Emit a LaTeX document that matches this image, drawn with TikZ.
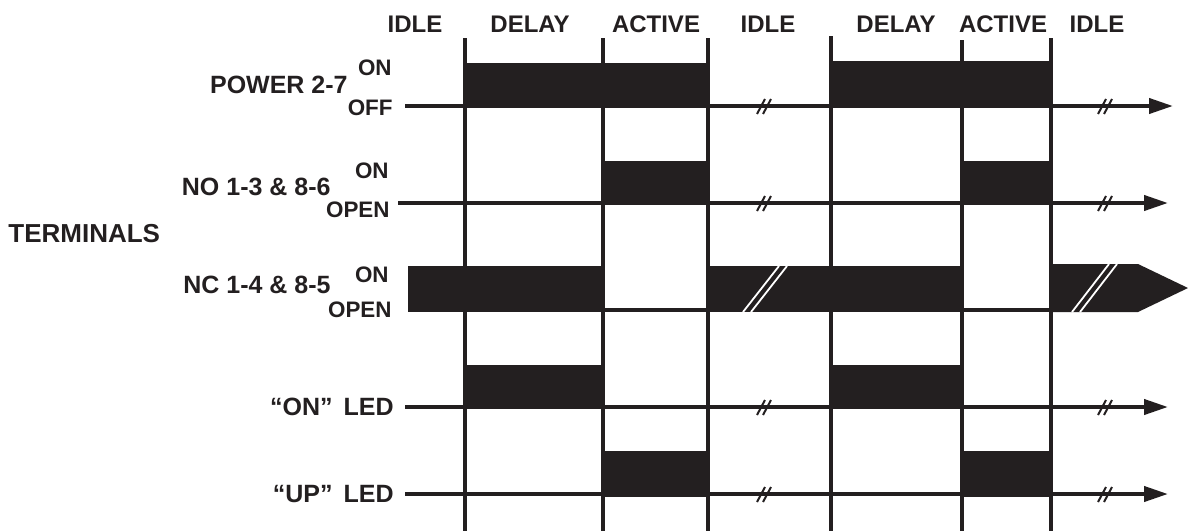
\documentclass[tikz,border=0pt]{standalone}
\usepackage{fontspec}
\setmainfont{Liberation Sans}
\usetikzlibrary{arrows.meta,positioning}
\usepackage{xcolor}
\definecolor{Ink}{HTML}{231F20}
\tikzset{
 phase/.style={font=\bfseries\fontsize{12}{14}\selectfont, text=Ink, anchor=base, inner sep=0pt},
 rowlabel/.style={font=\bfseries\fontsize{12.5}{15}\selectfont, text=Ink, anchor=base east, inner sep=0pt},
 levellabel/.style={font=\bfseries\fontsize{11.2}{13}\selectfont, text=Ink, anchor=base east, inner sep=0pt},
 divider/.style={draw=Ink, line width=2.2pt},
 wave/.style={draw=Ink, line width=2pt, -{Triangle[length=12pt,width=7.5pt]}},
 openline/.style={draw=Ink, line width=2pt},
 bar/.style={fill=Ink},
 breakmark/.style={draw=Ink, line width=1pt},
 gap/.style={draw=white, line width=0.9pt}
}
\newcommand{\cutmark}[2]{\draw[breakmark] (#1-8,#2+8) -- (#1,#2-7); \draw[breakmark] (#1-2,#2+8) -- (#1+6,#2-7);}

\begin{document}
\begin{tikzpicture}[x=0.5pt,y=-0.5pt]
\useasboundingbox (0,0) rectangle (1188,531);
% phases
\node[phase] (idleA) at (415,32) {IDLE};
\node[phase] (delayA) at (530,32) {DELAY};
\node[phase] (activeA) at (656,32) {ACTIVE};
\node[phase] (idleB) at (768,32) {IDLE};
\node[phase] (delayB) at (896,32) {DELAY};
\node[phase] (activeB) at (1003,32) {ACTIVE};
\node[phase] (idleC) at (1097,32) {IDLE};
% labels
\node[rowlabel] (power) at (348,93) {POWER 2-7};
\node[levellabel] (powerOn) at (392,75) {ON};
\node[levellabel] (powerOff) at (393,115) {OFF};
\node[rowlabel] (no) at (331,195) {NO 1-3 \& 8-6};
\node[levellabel] (noOn) at (389,178) {ON};
\node[levellabel] (noOpen) at (390,217) {OPEN};
\node[rowlabel,anchor=base west,font=\bfseries\fontsize{13}{15}\selectfont] (term) at (8,242) {TERMINALS};
\node[rowlabel] (nc) at (331,293) {NC 1-4 \& 8-5};
\node[levellabel] (ncOn) at (389,282) {ON};
\node[levellabel] (ncOpen) at (392,317) {OPEN};
\node[rowlabel] (onLed) at (394,415) {“ON”\hspace{2pt} LED};
\node[rowlabel] (upLed) at (394,502) {“UP”\hspace{2pt} LED};
% POWER 2-7
\fill[bar] (465,63) rectangle (708,108);
\fill[bar] (831,61) rectangle (1051,108);
\coordinate (powerStart) at (405,106);
\coordinate (powerEnd) at (1173,106);
\draw[wave] (powerStart) -- (powerEnd);
\cutmark{765}{106}\cutmark{1106}{106}
% NO 1-3 & 8-6
\fill[bar] (603,161) rectangle (708,205);
\fill[bar] (962,161) rectangle (1051,205);
\coordinate (noStart) at (398,203);
\coordinate (noEnd) at (1168,203);
\draw[wave] (noStart) -- (noEnd);
\cutmark{765}{203}\cutmark{1106}{203}
% NC 1-4 & 8-5
\coordinate (ncStart) at (408,310);
\coordinate (ncEnd) at (1138,310);
\draw[openline] (ncStart) -- (ncEnd);
\fill[bar] (408,266) rectangle (603,312);
\fill[bar] (708,266) rectangle (962,312);
\fill[bar] (1051,264) -- (1138,264) -- (1188,288) -- (1138,312) -- (1051,312) -- cycle;
\draw[gap] (743,312) -- (779,266);
\draw[gap] (751,312) -- (787,266);
\draw[gap] (1072,312) -- (1109,264);
\draw[gap] (1080,312) -- (1117,264);
% "ON" LED
\fill[bar] (465,365) rectangle (603,409);
\fill[bar] (831,365) rectangle (962,409);
\coordinate (onStart) at (405,407);
\coordinate (onEnd) at (1168,407);
\draw[wave] (onStart) -- (onEnd);
\cutmark{765}{407}\cutmark{1106}{407}
% "UP" LED
\fill[bar] (603,451) rectangle (708,497);
\fill[bar] (962,451) rectangle (1051,497);
\coordinate (upStart) at (405,494);
\coordinate (upEnd) at (1168,494);
\draw[wave] (upStart) -- (upEnd);
\cutmark{765}{494}\cutmark{1106}{494}
% dividers
\foreach \x/\t in {465/38,603/38,708/38,831/36,962/40,1051/38}
  \draw[divider] (\x,\t) -- (\x,531);
\end{tikzpicture}
\end{document}
